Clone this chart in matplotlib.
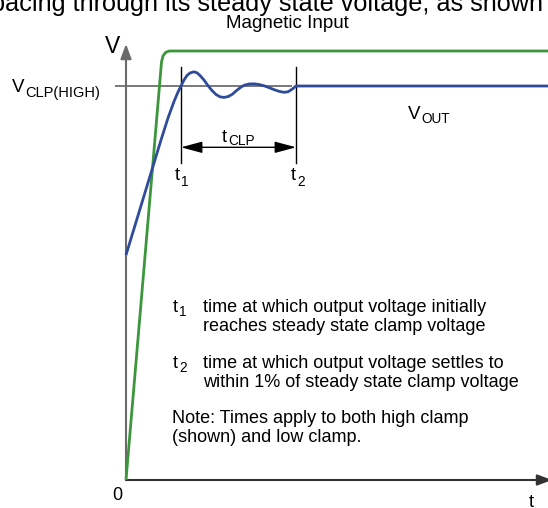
import matplotlib
matplotlib.use("Agg")
import matplotlib.pyplot as plt

plt.rcParams['font.family'] = ['Liberation Sans', 'DejaVu Sans']

# ---- data (time / voltage in arbitrary units) ----
input_t = [0.0, 0.355, 0.37, 0.395, 0.43, 4.22]
input_v = [0.0, 4.18, 4.24, 4.275, 4.29, 4.29]

vout_t = [0.0, 0.07, 0.14, 0.21, 0.28, 0.35, 0.42, 0.48, 0.52, 0.55,
          0.58, 0.61, 0.64, 0.68, 0.71, 0.74, 0.78, 0.82, 0.86, 0.90,
          0.94, 0.98, 1.02, 1.06, 1.10, 1.14, 1.18, 1.23, 1.28, 1.33,
          1.38, 1.43, 1.48, 1.53, 1.58, 1.62, 1.66, 1.70, 4.22]
vout_v = [2.25, 2.48, 2.71, 2.94, 3.17, 3.40, 3.62, 3.785, 3.88, 3.94,
          4.00, 4.045, 4.07, 4.082, 4.072, 4.045, 4.00, 3.943, 3.895, 3.855,
          3.832, 3.826, 3.834, 3.855, 3.89, 3.922, 3.947, 3.96, 3.962, 3.955,
          3.942, 3.924, 3.904, 3.887, 3.877, 3.882, 3.907, 3.94, 3.94]

v_clp_high = 3.94
t1 = 0.55
t2 = 1.70

GREEN = '#3c963c'
BLUE = '#2f4b9b'
AXGRAY = '#6a6a6a'

fig = plt.figure(figsize=(5.48, 5.08), dpi=100)
ax = fig.add_axes([0, 0, 1, 1])
ax.set_xlim(-1.26, 4.22)
ax.set_ylim(-0.28, 4.80)
ax.axis('off')


def P(px, py):
    return ((px - 126) / 100.0, (480 - py) / 100.0)


# axes with arrows
ax.annotate('', xy=(0, P(0, 44)[1]), xytext=(0, 0),
            arrowprops=dict(arrowstyle='-|>,head_length=0.8,head_width=0.3',
                            color=AXGRAY, lw=1.5, shrinkA=0, shrinkB=0,
                            mutation_scale=11), annotation_clip=False)
ax.annotate('', xy=(P(552, 0)[0], 0), xytext=(0, 0),
            arrowprops=dict(arrowstyle='-|>,head_length=0.8,head_width=0.3',
                            color='#333333', lw=1.5, shrinkA=0, shrinkB=0,
                            mutation_scale=11), annotation_clip=False)

# V_CLP reference line
ax.plot([P(115, 0)[0], P(292, 0)[0]], [v_clp_high, v_clp_high],
        color='#555555', lw=1.1, solid_capstyle='butt', zorder=2)

# t1 / t2 markers
for tx in (t1, t2):
    ax.plot([tx, tx], [P(0, 67)[1], P(0, 163)[1]], color='black', lw=1.0, zorder=2)

# tCLP double arrow
ya = P(0, 147.3)[1]
ax.annotate('', xy=(t2, ya), xytext=(t1, ya),
            arrowprops=dict(arrowstyle='<|-|>,head_length=1.3,head_width=0.35',
                            color='black', lw=1.0, shrinkA=0, shrinkB=0,
                            mutation_scale=10))

# curves
ax.plot(input_t, input_v, color=GREEN, lw=2.0, solid_joinstyle='round',
        solid_capstyle='butt', zorder=3)
ax.plot(vout_t, vout_v, color=BLUE, lw=2.0, solid_joinstyle='round',
        solid_capstyle='butt', zorder=4)

# ---- texts ----
FS = 13
SUB = 9.8


def txt(px, py, s, size=FS, **kw):
    x, y = P(px, py)
    ax.text(x, y, s, fontsize=size, va='baseline', clip_on=False, **kw)


# top clipped sentence
txt(543, 11, 'pacing through its steady state voltage, as shown', size=18.2, ha='right')
txt(287, 28, 'Magnetic Input', size=13.5, ha='center')

# axis labels
txt(105, 53, 'V', size=16.5)
txt(112, 500, '0', size=FS)
txt(529, 507, 't', size=FS)

# V_CLP(HIGH)
txt(12, 92, 'V', size=13.5)
txt(25, 97, 'CLP(HIGH)', size=10.5)

# V_OUT
txt(408, 119, 'V', size=13.5)
txt(421, 123, 'OUT', size=SUB)

# t_CLP
txt(222, 141.5, 't', size=FS)
txt(228, 145, 'CLP', size=SUB)

# t1, t2 labels
txt(175, 180, 't', size=FS)
txt(181, 186, '1', size=SUB)
txt(291, 180, 't', size=FS)
txt(297, 186, '2', size=SUB)

# explanation block
txt(173, 312, 't', size=FS)
txt(179, 316, '1', size=SUB)
txt(203, 312, 'time at which output voltage initially')
txt(203, 331, 'reaches steady state clamp voltage')
txt(173, 368, 't', size=FS)
txt(179, 372, '2', size=SUB)
txt(203, 368, 'time at which output voltage settles to')
txt(203, 387, 'within 1% of steady state clamp voltage')
txt(172, 423, 'Note: Times apply to both high clamp')
txt(172, 442, '(shown) and low clamp.')

fig.savefig('out.png', dpi=100)
